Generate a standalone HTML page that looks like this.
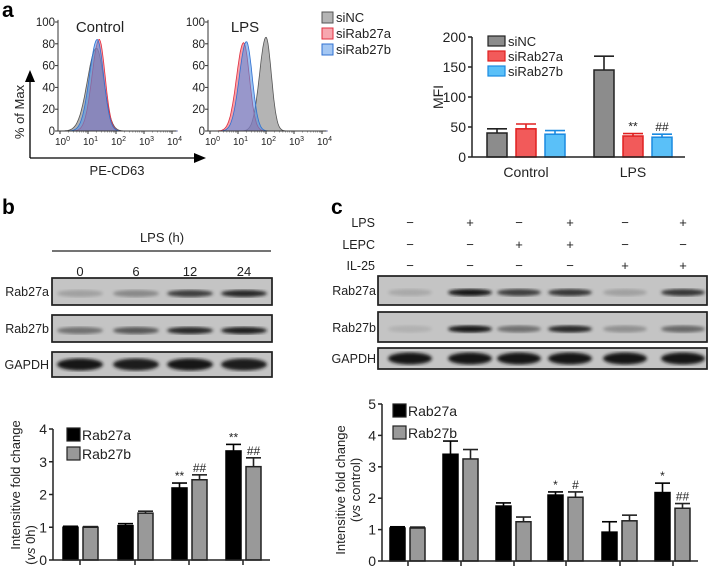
<!DOCTYPE html>
<html><head><meta charset="utf-8">
<style>
html,body{margin:0;padding:0;background:#fff;}
svg{display:block;font-family:"Liberation Sans",sans-serif;}
</style></head>
<body>
<svg id="fig" width="709" height="572" viewBox="0 0 709 572" xmlns="http://www.w3.org/2000/svg">
<defs>
<filter id="blur1"><feGaussianBlur stdDeviation="1.6"/></filter>
</defs>
<text x="2" y="17" font-size="21" font-weight="bold">a</text>
<text x="2" y="214" font-size="21" font-weight="bold">b</text>
<text x="331" y="214" font-size="21" font-weight="bold">c</text>

<g id="facs"></g>
<g id="mfi"></g>
<g id="blotb"></g>
<g id="blotc"></g>
<g id="chartb"></g>
<g id="chartc"></g>
</svg>
<script>
// ---------- data ----------
const histGroups = ["Control","LPS"];
const histSeries = ["siNC","siRab27a","siRab27b"];
const histPeakLog = [[1.30,1.40,1.33],[2.00,1.20,1.30]];
const histPeakPct = [[76,84,84],[86,81,82]];
const histWidth = [[0.28,0.22,0.24],[0.20,0.22,0.22]];

const mfiGroups = ["Control","LPS"];
const mfiSiNC = [40,145];
const mfiSiNCErr = [7,23];
const mfiRab27a = [47,35];
const mfiRab27aErr = [8,4];
const mfiRab27b = [38,33];
const mfiRab27bErr = [6,5];
const mfiTicks = [0,50,100,150,200];
const mfiMarksA = ["","**"];
const mfiMarksB = ["","##"];

const bLanes = ["0","6","12","24"];
const bRab27a = [1.0,1.05,2.2,3.33];
const bRab27aErr = [0.03,0.06,0.15,0.2];
const bRab27b = [1.0,1.43,2.45,2.85];
const bRab27bErr = [0.02,0.06,0.15,0.27];
const bTicks = [0,1,2,3,4];
const bMarksA = ["","","**","**"];
const bMarksB = ["","","##","##"];

const cLPS = ["−","+","−","+","−","+"];
const cLEPC = ["−","−","+","+","−","−"];
const cIL25 = ["−","−","−","−","+","+"];
const cRab27a = [1.05,3.4,1.75,2.1,0.92,2.18];
const cRab27aErr = [0.04,0.42,0.1,0.1,0.33,0.3];
const cRab27b = [1.05,3.25,1.25,2.03,1.28,1.68];
const cRab27bErr = [0.03,0.3,0.15,0.17,0.18,0.15];
const cTicks = [0,1,2,3,4,5];
const cMarksA = ["","","","*","","*"];
const cMarksB = ["","","","#","","##"];

const bBandA = [0.15,0.3,0.75,0.9];
const bBandB = [0.45,0.6,0.9,0.95];
const bBandG = [1,0.95,1,0.95];
const cBandA = [0.1,1,0.75,0.8,0.15,0.8];
const cBandB = [0.05,1,0.45,0.9,0.25,0.5];
const cBandG = [1,1,1,1,1,1];

// ---------- helpers ----------
const NS="http://www.w3.org/2000/svg";
function mk(tag,parent,attrs){const e=document.createElementNS(NS,tag);for(const k in attrs)e.setAttribute(k,attrs[k]);parent.appendChild(e);return e;}
function txt(parent,x,y,s,size,anchor,extra){const t=mk("text",parent,Object.assign({x:x,y:y,"font-size":size,"text-anchor":anchor||"start"},extra||{}));t.textContent=s;return t;}

// ---------- flow histograms ----------
const facs=document.getElementById("facs");
const histX0=[60,210], histDec=28, histY0=131, histYs=1.09;
const histFill=["#b4b4b4","#f05060","#4a90e8"];
const histStroke=["#555","#e03040","#3070d0"];
const histOp=[1,0.55,0.55];
histGroups.forEach((g,gi)=>{
  const ax=histX0[gi]-2;
  const hx=v=>histX0[gi]+v*histDec;
  const hy=p=>histY0-p*histYs;
  histSeries.forEach((s,si)=>{
    let d="M"+hx(0)+","+hy(0);
    for(let l=0;l<=4.2;l+=0.03){
      const z=(l-histPeakLog[gi][si])/histWidth[gi][si];
      const v=histPeakPct[gi][si]*Math.exp(-0.5*z*z*(z<0?0.75:1.1));
      d+=" L"+hx(l).toFixed(1)+","+hy(v).toFixed(1);
    }
    d+=" L"+hx(4.2)+","+hy(0)+"Z";
    const p=mk("path",facs,{d:d,fill:histFill[si],"fill-opacity":histOp[si],stroke:histStroke[si],"stroke-width":0.8});
    
    
  });
  mk("line",facs,{x1:ax,y1:hy(0),x2:ax,y2:hy(102),stroke:"#333","stroke-width":1});
  mk("line",facs,{x1:ax,y1:hy(0),x2:hx(4.15),y2:hy(0),stroke:"#333","stroke-width":1});
  [0,20,40,60,80,100].forEach(t=>{
    mk("line",facs,{x1:ax-3,y1:hy(t),x2:ax,y2:hy(t),stroke:"#333"});
    txt(facs,ax-3,hy(t)+4,String(t),11.5,"end",{fill:"#222"});
  });
  for(let dd=0;dd<=4;dd++){
    mk("line",facs,{x1:hx(dd),y1:hy(0),x2:hx(dd),y2:hy(0)+3,stroke:"#333"});
    const t=txt(facs,hx(dd)-5,hy(0)+14,"10",10,"start",{fill:"#222"});
    const sp=mk("tspan",t,{dy:-4,"font-size":7});sp.textContent=String(dd);
    if(dd<4)for(let m=2;m<10;m++)mk("line",facs,{x1:hx(dd+Math.log10(m)),y1:hy(0),x2:hx(dd+Math.log10(m)),y2:hy(0)+1.5,stroke:"#555","stroke-width":0.6});
  }
  const tl=txt(facs,gi==0?100:245,32,g,15,"middle",{fill:"#222"});
  
  
});
mk("line",facs,{x1:30,y1:158,x2:30,y2:80,stroke:"#000","stroke-width":1.3});
mk("path",facs,{d:"M25,82 L30,70 L35,82Z",fill:"#000"});
mk("line",facs,{x1:30,y1:158,x2:196,y2:158,stroke:"#000","stroke-width":1.3});
mk("path",facs,{d:"M194,153 L206,158 L194,163Z",fill:"#000"});
const ylab=txt(facs,0,0,"% of Max",13,"middle",{transform:"translate(24,112) rotate(-90)",fill:"#222"});


const xlab=txt(facs,117,175,"PE-CD63",13,"middle",{fill:"#222"});


histSeries.forEach((s,si)=>{
  const y=12+si*16;
  const r=mk("rect",facs,{x:322,y:y,width:11,height:11,fill:histFill[si],"fill-opacity":si?0.5:1,stroke:histStroke[si]});
  
  
  const t=txt(facs,336,y+10,s,13,"start",{fill:"#222"});
  
  
});

// ---------- generic bar chart ----------
function barChart(g,opt){
  const ys=v=>opt.y0-(v-opt.ticks[0])/(opt.ticks[opt.ticks.length-1]-opt.ticks[0])*(opt.y0-opt.yTop);
  opt.series.forEach((s,si)=>{
    s.values.forEach((v,i)=>{
      const x=opt.groupX[i]+s.offset;
      const y=ys(v);
      const e=ys(v+s.errs[i]);
      mk("line",g,{x1:x+opt.bw/2,y1:y,x2:x+opt.bw/2,y2:e,stroke:s.stroke,"stroke-width":1.6});
      mk("line",g,{x1:x+opt.bw/2-opt.capW/2,y1:e,x2:x+opt.bw/2+opt.capW/2,y2:e,stroke:s.stroke,"stroke-width":1.6});
      const r=mk("rect",g,{x:x,y:y,width:opt.bw,height:opt.y0-y,fill:s.fill,stroke:s.stroke,"stroke-width":1.5});
      
      
      if(s.marks[i]){const m=txt(g,x+opt.bw/2,e-3,s.marks[i],opt.markSize,"middle",{fill:"#222"});
        
        }
    });
  });
  mk("line",g,{x1:opt.x0,y1:opt.y0,x2:opt.x0,y2:opt.yTop,stroke:"#222","stroke-width":1.5});
  mk("line",g,{x1:opt.x0,y1:opt.y0,x2:opt.xEnd,y2:opt.y0,stroke:"#222","stroke-width":1.5});
  opt.ticks.forEach(t=>{
    mk("line",g,{x1:opt.x0-4,y1:ys(t),x2:opt.x0,y2:ys(t),stroke:"#222","stroke-width":1.5});
    const tl=txt(g,opt.x0-6,ys(t)+5,String(t),opt.tickSize,"end",{fill:"#222"});
    
    
  });
  if(opt.xTicks) opt.xTicks.forEach(x=>mk("line",g,{x1:x,y1:opt.y0,x2:x,y2:opt.y0+5,stroke:"#222","stroke-width":1.5}));
}

// ---------- MFI chart ----------
const mfi=document.getElementById("mfi");
barChart(mfi,{name:"mfi",x0:472,xEnd:685,y0:157,yTop:37,ticks:mfiTicks,bw:20,capW:20,tickSize:14,markSize:12,
  groupX:[487,594],
  series:[
    {key:"sinc",values:mfiSiNC,errs:mfiSiNCErr,marks:["",""],offset:0,fill:"#8c8c8c",stroke:"#222"},
    {key:"sirab27a",values:mfiRab27a,errs:mfiRab27aErr,marks:mfiMarksA,offset:29,fill:"#f25a5a",stroke:"#e02020"},
    {key:"sirab27b",values:mfiRab27b,errs:mfiRab27bErr,marks:mfiMarksB,offset:58,fill:"#5ac0f8",stroke:"#1a8ae0"}
  ]});
mfiGroups.forEach((g,i)=>{const t=txt(mfi,[526,633][i],177,g,14,"middle",{fill:"#222"});
  
  });
const mfiY=txt(mfi,0,0,"MFI",14,"middle",{transform:"translate(443,97) rotate(-90)",fill:"#222"});


[["siNC","#8c8c8c","#222"],["siRab27a","#f25a5a","#e02020"],["siRab27b","#5ac0f8","#1a8ae0"]].forEach((l,i)=>{
  const y=36+i*15;
  const r=mk("rect",mfi,{x:488,y:y,width:17,height:10,fill:l[1],stroke:l[2],"stroke-width":1.2});
  
  
  const t=txt(mfi,508,y+10,l[0],13,"start",{fill:"#222"});
  
  
});

// ---------- blots ----------
function blotBox(g,name,x1,x2,y1,y2,lanesX,bands,bw,thick){
  mk("rect",g,{x:x1,y:y1,width:x2-x1,height:y2-y1,fill:"#c4c4c4",stroke:"#222","stroke-width":1.5});
  const bg=mk("g",g,{filter:"url(#blur1)"});
  lanesX.forEach((x,i)=>{
    const v=bands[i];
    const c=Math.round(185-165*v);
    mk("ellipse",bg,{cx:x,cy:(y1+y2)/2+(thick?0:2),rx:bw/2,ry:thick?6:3.5,fill:"rgb("+c+","+c+","+c+")"});
  });
  const r=mk("rect",g,{x:x1,y:y1,width:x2-x1,height:y2-y1,fill:"none",stroke:"#222","stroke-width":1.5});
  
  
}
const blb=document.getElementById("blotb");
const bLaneX=[80,136,190,244];
const lt=txt(blb,162,242,"LPS (h)",13,"middle",{fill:"#222"});


mk("line",blb,{x1:52,y1:251,x2:271,y2:251,stroke:"#222","stroke-width":1.3});
bLanes.forEach((l,i)=>{const t=txt(blb,bLaneX[i],276,l,13,"middle",{fill:"#222"});
  
  });
blotBox(blb,"blot-b-rab27a",52,272,278,305,bLaneX,bBandA,46,false);
blotBox(blb,"blot-b-rab27b",52,272,315,342,bLaneX,bBandB,46,false);
blotBox(blb,"blot-b-gapdh",52,272,352,377,bLaneX,bBandG,46,true);
[["Rab27a",296],["Rab27b",333],["GAPDH",369]].forEach(l=>{const t=txt(blb,49,l[1],l[0],12.5,"end",{fill:"#222"});
  
  });

const blc=document.getElementById("blotc");
const cLaneX=[410,470,519,570,625,683];
[["LPS",cLPS,227],["LEPC",cLEPC,249],["IL-25",cIL25,270]].forEach(row=>{
  const t=txt(blc,375,row[2],row[0],12.5,"end",{fill:"#222"});
  
  
  row[1].forEach((s,i)=>{const m=txt(blc,cLaneX[i],row[2],s,13,"middle",{fill:"#222"});
    
    });
});
blotBox(blc,"blot-c-rab27a",378,707,276,305,cLaneX,cBandA,44,false);
blotBox(blc,"blot-c-rab27b",378,707,312,342,cLaneX,cBandB,44,false);
blotBox(blc,"blot-c-gapdh",378,707,348,369,cLaneX,cBandG,44,true);
[["Rab27a",295],["Rab27b",332],["GAPDH",363]].forEach(l=>{const t=txt(blc,376,l[1],l[0],12.5,"end",{fill:"#222"});
  
  });

// ---------- chart b ----------
const cb=document.getElementById("chartb");
barChart(cb,{name:"chart-b",x0:53,xEnd:270,y0:560,yTop:429,ticks:bTicks,bw:15,capW:15,tickSize:14,markSize:12,
  groupX:[63,118,172,226],xTicks:[80,135,189,243],
  series:[
    {key:"rab27a",values:bRab27a,errs:bRab27aErr,marks:bMarksA,offset:0,fill:"#000",stroke:"#000"},
    {key:"rab27b",values:bRab27b,errs:bRab27bErr,marks:bMarksB,offset:20,fill:"#999",stroke:"#222"}
  ]});
[["Rab27a","#000"],["Rab27b","#999"]].forEach((l,i)=>{
  const y=428+i*19;
  const r=mk("rect",cb,{x:67,y:y,width:13,height:13,fill:l[1],stroke:"#222","stroke-width":1.2});
  
  
  const t=txt(cb,82,y+12,l[0],14,"start",{fill:"#222"});
  
  
});
const bY1=txt(cb,0,0,"Intensitive fold change",13,"middle",{transform:"translate(20,485) rotate(-90)",fill:"#222"});


const bY2=mk("text",cb,{transform:"translate(35,545) rotate(-90)","font-size":13,"text-anchor":"middle",fill:"#222"});
bY2.innerHTML='(<tspan font-style="italic">vs</tspan> 0h)';



// ---------- chart c ----------
const cc=document.getElementById("chartc");
barChart(cc,{name:"chart-c",x0:382,xEnd:698,y0:561,yTop:404,ticks:cTicks,bw:15,capW:15,tickSize:14,markSize:12,
  groupX:[390,443,496,548,602,655],xTicks:[408,461,514,566,620,673],
  series:[
    {key:"rab27a",values:cRab27a,errs:cRab27aErr,marks:cMarksA,offset:0,fill:"#000",stroke:"#000"},
    {key:"rab27b",values:cRab27b,errs:cRab27bErr,marks:cMarksB,offset:20,fill:"#999",stroke:"#222"}
  ]});
[["Rab27a","#000"],["Rab27b","#999"]].forEach((l,i)=>{
  const y=404+i*22;
  const r=mk("rect",cc,{x:393,y:y,width:13,height:13,fill:l[1],stroke:"#222","stroke-width":1.2});
  
  
  const t=txt(cc,408,y+12,l[0],14,"start",{fill:"#222"});
  
  
});
const cY1=txt(cc,0,0,"Intensitive fold change",13,"middle",{transform:"translate(345,490) rotate(-90)",fill:"#222"});


const cY2=mk("text",cc,{transform:"translate(360,490) rotate(-90)","font-size":13,"text-anchor":"middle",fill:"#222"});
cY2.innerHTML='(<tspan font-style="italic">vs</tspan> control)';


</script>
</body></html>
